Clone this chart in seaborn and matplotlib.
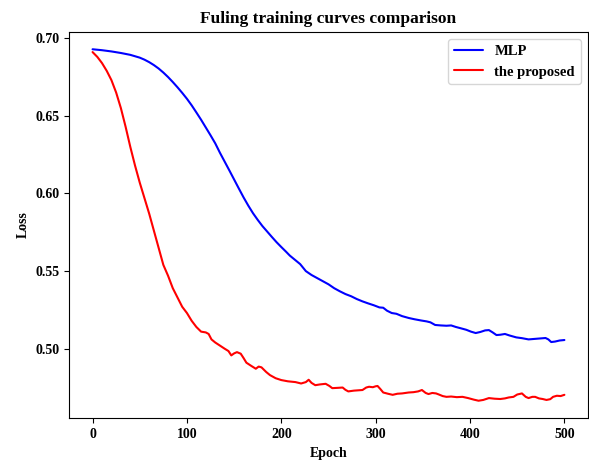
import matplotlib
matplotlib.use("Agg")
import matplotlib.pyplot as plt
import seaborn as sns
import pandas as pd

# ---- data ----
mlp_epochs = [0, 10, 20, 30, 40, 50, 55, 60, 65, 70, 75, 80, 85, 90, 95, 100, 105, 110, 115, 120, 125,
              130, 135, 140, 145, 150, 155, 160, 165, 170, 175, 180, 185, 190, 195, 200, 205,
              209, 215, 220, 226, 232, 238, 244, 250, 256, 262, 268, 274, 280, 286, 292, 298,
              304, 308, 312, 317, 322, 328, 335, 341, 348, 354, 358, 363, 369, 375, 380, 385, 390, 396,
              401, 406, 411, 416, 420, 424, 428, 432, 437, 442, 449, 455, 462, 468, 474, 480, 483, 486,
              490, 495, 500]
mlp_loss = [0.6929, 0.6923, 0.6915, 0.6905, 0.6893, 0.6875, 0.6862, 0.6846, 0.6827, 0.6805, 0.6779,
            0.6750, 0.6718, 0.6684, 0.6648, 0.6610, 0.6568, 0.6522, 0.6475, 0.6425, 0.6375, 0.6323,
            0.6262, 0.6205, 0.6148, 0.6090, 0.6032, 0.5975, 0.5922, 0.5873, 0.5830, 0.5790, 0.5755,
            0.5720, 0.5686, 0.5655, 0.5625,
            0.5600, 0.5570, 0.5545, 0.5500, 0.5475, 0.5455, 0.5435, 0.5415, 0.5390, 0.5370, 0.5352,
            0.5338, 0.5320, 0.5305, 0.5292, 0.5280, 0.5266, 0.5264, 0.5245, 0.5230, 0.5225, 0.5210,
            0.5198, 0.5190, 0.5182, 0.5176, 0.5170, 0.5153, 0.5150, 0.5148, 0.5150, 0.5140, 0.5132,
            0.5122, 0.5110, 0.5101, 0.5108, 0.5118, 0.5120, 0.5105, 0.5088, 0.5090, 0.5095, 0.5085,
            0.5073, 0.5068, 0.5060, 0.5063, 0.5066, 0.5069, 0.5060, 0.5043, 0.5046, 0.5053, 0.5056]

prop_epochs = [0, 5, 10, 15, 20, 25, 30, 35, 40, 45, 50, 55, 60, 65, 70, 75, 80, 85, 90, 95, 100, 105,
               110, 115, 120, 123, 126, 130, 135, 140, 144, 147, 150, 153, 157, 160, 163, 168, 173, 176,
               179, 184, 188, 194, 200, 207, 215, 221, 226, 229, 232, 236, 241, 247, 251, 254, 260, 265,
               268, 271, 277, 286, 290, 293, 297, 300, 302, 305, 308, 313, 318, 323, 328, 335, 340, 345,
               349, 353, 356, 360, 364, 367, 371, 375, 380, 386, 392, 398, 404, 409, 414, 420, 426, 432,
               437, 441, 446, 450, 455, 459, 462, 466, 469, 473, 477, 481, 485, 488, 492, 496, 500]
prop_loss = [0.6911, 0.6880, 0.6840, 0.6790, 0.6730, 0.6650, 0.6550, 0.6430, 0.6300, 0.6180, 0.6070,
             0.5970, 0.5870, 0.5760, 0.5650, 0.5540, 0.5470, 0.5390, 0.5330, 0.5270, 0.5230, 0.5180,
             0.5140, 0.5110, 0.5105, 0.5095, 0.5060, 0.5040, 0.5020, 0.5000, 0.4985, 0.4957, 0.4970,
             0.4978, 0.4968, 0.4940, 0.4910, 0.4890, 0.4871, 0.4885, 0.4880, 0.4850, 0.4830, 0.4810,
             0.4798, 0.4790, 0.4785, 0.4776, 0.4785, 0.4800, 0.4780, 0.4765, 0.4770, 0.4774, 0.4760,
             0.4746, 0.4748, 0.4750, 0.4735, 0.4725, 0.4730, 0.4734, 0.4750, 0.4755, 0.4752, 0.4758,
             0.4760, 0.4740, 0.4718, 0.4710, 0.4703, 0.4710, 0.4712, 0.4718, 0.4720, 0.4725, 0.4734,
             0.4715, 0.4708, 0.4715, 0.4712, 0.4705, 0.4695, 0.4690, 0.4692, 0.4688, 0.4690, 0.4682,
             0.4672, 0.4665, 0.4670, 0.4682, 0.4678, 0.4676, 0.4680, 0.4686, 0.4690, 0.4705, 0.4712,
             0.4690, 0.4682, 0.4690, 0.4690, 0.4680, 0.4676, 0.4670, 0.4675, 0.4690, 0.4697, 0.4695,
             0.4703]

series_names = ["MLP", "the proposed"]
series_colors = ["blue", "red"]

df = pd.concat([
    pd.DataFrame({"Epoch": mlp_epochs, "Loss": mlp_loss, "model": series_names[0]}),
    pd.DataFrame({"Epoch": prop_epochs, "Loss": prop_loss, "model": series_names[1]}),
], ignore_index=True)

sns.set_style("ticks")
plt.rcParams["font.family"] = ["Liberation Serif", "DejaVu Serif"]
plt.rcParams["font.weight"] = "bold"
plt.rcParams["axes.labelweight"] = "bold"
plt.rcParams["axes.titleweight"] = "bold"
for k in ["axes.edgecolor", "xtick.color", "ytick.color", "text.color", "axes.labelcolor"]:
    plt.rcParams[k] = "black"

fig = plt.figure(figsize=(5.89, 4.62), dpi=100)
ax = fig.add_axes([0.1171, 0.0946, 0.8812, 0.8368])

sns.lineplot(data=df, x="Epoch", y="Loss", hue="model", palette=dict(zip(series_names, series_colors)),
             estimator=None, sort=False, linewidth=1.5, ax=ax)

ax.set_xticks([0, 100, 200, 300, 400, 500])
ax.set_yticks([0.50, 0.55, 0.60, 0.65, 0.70])
ax.set_yticklabels(["0.50", "0.55", "0.60", "0.65", "0.70"])
ax.tick_params(labelsize=10, width=0.8, length=3.5)
for lab in ax.get_xticklabels() + ax.get_yticklabels():
    lab.set_fontweight("bold")
for s in ax.spines.values():
    s.set_linewidth(0.8)
    s.set_color("black")

ax.set_xlabel("Epoch", fontsize=10, fontweight="bold")
ax.set_ylabel("Loss", fontsize=10, fontweight="bold")
ax.set_title("Fuling training curves comparison", fontsize=12.5, fontweight="bold")

leg = ax.legend(loc="upper right", prop={"weight": "bold", "size": 10.5, "family": ["Liberation Serif"]},
                frameon=True, fancybox=True)
leg.set_title(None)

fig.savefig("out.png", dpi=100)
